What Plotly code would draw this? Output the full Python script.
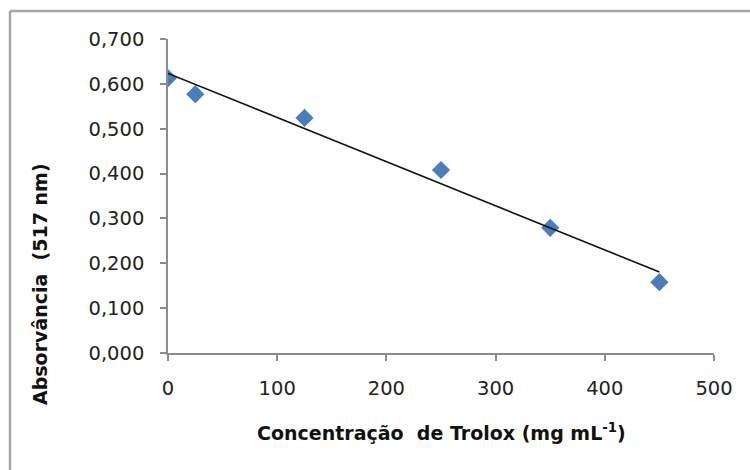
import numpy as np
import plotly.graph_objects as go

concentracao = [0, 25, 125, 250, 350, 450]
absorvancia = [0.613, 0.577, 0.524, 0.408, 0.279, 0.158]
x_ticks = [0, 100, 200, 300, 400, 500]
y_ticks = [0.0, 0.1, 0.2, 0.3, 0.4, 0.5, 0.6, 0.7]

slope, intercept = np.polyfit(concentracao, absorvancia, 1)
fit_x = [min(concentracao), max(concentracao)]
fit_y = [slope * v + intercept for v in fit_x]

FONT = "DejaVu Sans"
fig = go.Figure()
fig.add_trace(go.Scatter(x=concentracao, y=absorvancia, mode="markers",
                         marker=dict(symbol="diamond", size=14, color="#4a7ebb"),
                         showlegend=False))
fig.add_trace(go.Scatter(x=fit_x, y=fit_y, mode="lines",
                         line=dict(color="#111111", width=1.6), showlegend=False))

axis_common = dict(showgrid=False, zeroline=False, showline=True, linecolor="#8c8c8c",
                   linewidth=1.5, ticks="outside", ticklen=6, tickcolor="#8c8c8c", tickwidth=1.5,
                   tickfont=dict(family=FONT, size=19.5, color="#222222"))
fig.update_xaxes(range=[0, 500], tickvals=x_ticks, **axis_common)
fig.update_yaxes(range=[0, 0.7], tickvals=y_ticks, tickformat=".3f", **axis_common)
fig.update_yaxes(ticklabelstandoff=12)
fig.update_xaxes(ticklabelstandoff=11)

W, H = 750, 470
L, R, T, B = 168, 36, 39, 117
pw, ph = W - L - R, H - T - B
def px(xp): return (xp - L) / pw
def py(yp): return (H - B - yp) / ph

fig.update_layout(
    width=W, height=H, margin=dict(l=L, r=R, t=T, b=B),
    paper_bgcolor="white", plot_bgcolor="white", separators=",.",
    font=dict(family=FONT),
    shapes=[
        dict(type="line", xref="paper", yref="paper", x0=px(10), x1=px(10), y0=py(11), y1=py(480),
             line=dict(color="#a6a6a6", width=2.5)),
        dict(type="line", xref="paper", yref="paper", x0=px(10), x1=px(760), y0=py(11), y1=py(11),
             line=dict(color="#a6a6a6", width=2.5)),
    ],
    annotations=[
        dict(text="<b>Concentração  de Trolox (mg mL<sup>-1</sup>)</b>", xref="paper", yref="paper",
             x=0.5, y=py(432), showarrow=False, font=dict(family=FONT, size=19, color="#111111"),
             xanchor="center", yanchor="middle"),
        dict(text="<b>Absorvância  (517 nm)</b>", xref="paper", yref="paper", textangle=-90,
             x=px(40), y=py(284), showarrow=False, font=dict(family=FONT, size=19, color="#111111"),
             xanchor="center", yanchor="middle"),
    ],
)
fig.write_html("out.html")
